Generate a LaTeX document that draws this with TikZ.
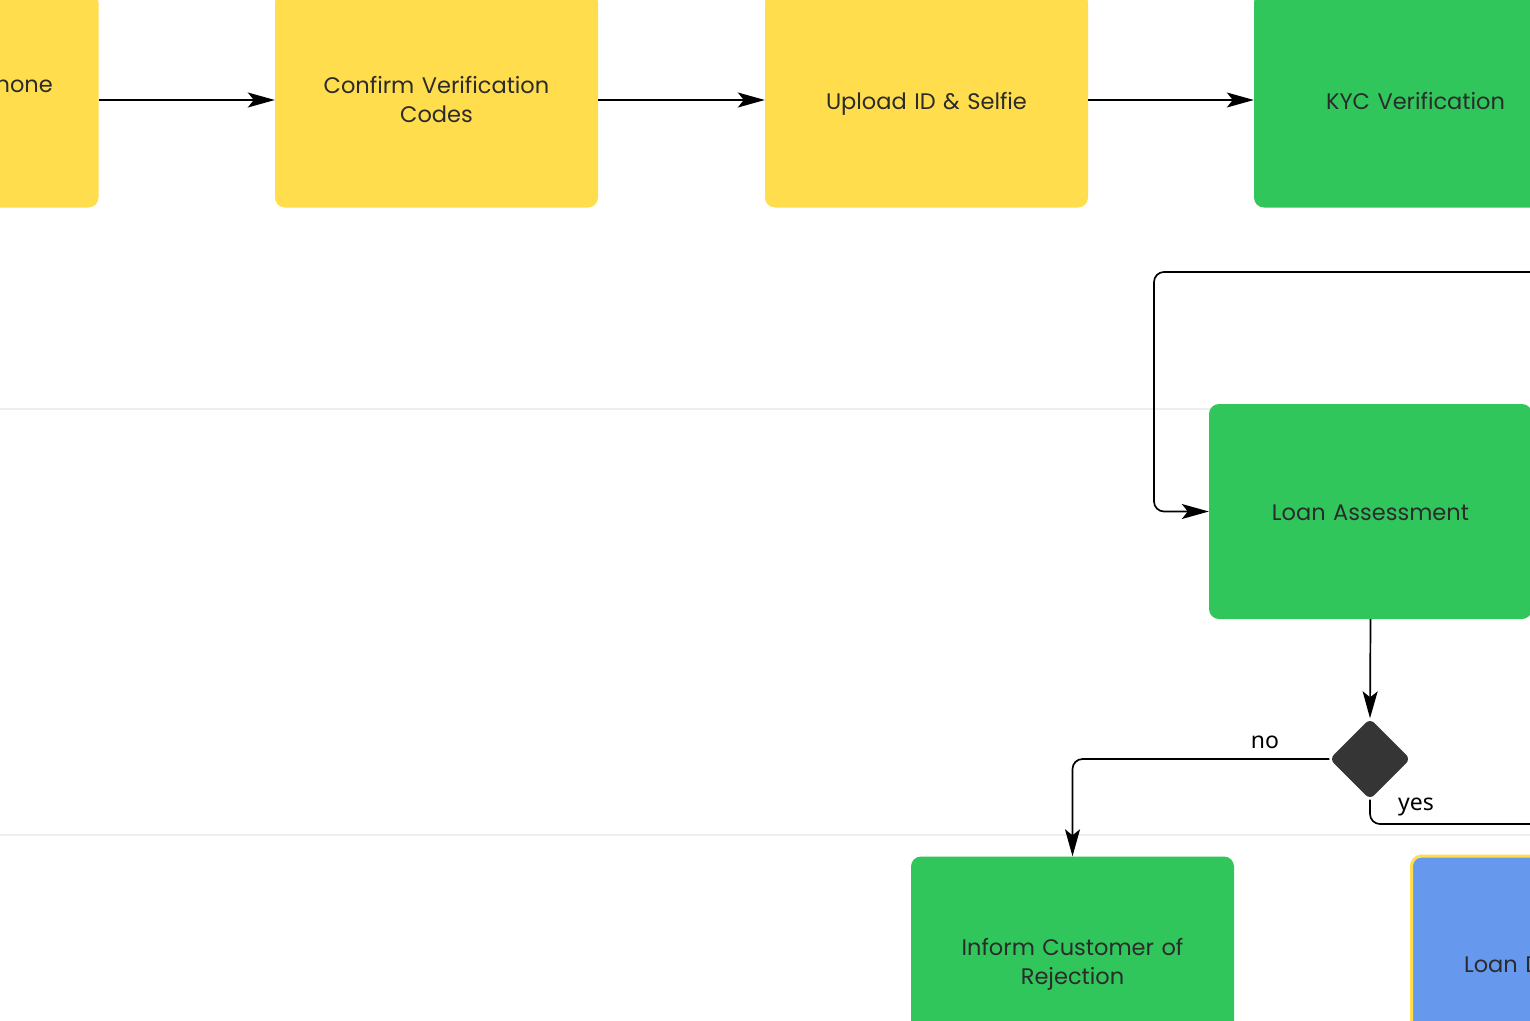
\documentclass[tikz,border=0pt]{standalone}
\usepackage{fontspec}
\setmainfont{Poppins}
\newfontfamily\labelfont{Noto Sans}
\usetikzlibrary{arrows.meta,shapes.geometric}
\definecolor{stepyellow}{HTML}{FFDD4D}
\definecolor{stepgreen}{HTML}{30C65C}
\definecolor{stepblue}{HTML}{6699EE}
\definecolor{steptext}{HTML}{2B2B2B}
\definecolor{lanegray}{HTML}{EEEEEE}
\definecolor{gatefill}{HTML}{353535}
\tikzset{
  stepfont/.style={text=steptext, font=\fontsize{22.5}{29}\selectfont},
  stepbox/.style={rectangle, rounded corners=10pt, minimum width=323pt,
    minimum height=215pt, text width=300pt, align=center, inner sep=0pt,
    stepfont},
  oneline/.style={text depth=0pt, text height=18pt},
  manual/.style={stepbox, fill=stepyellow},
  system/.style={stepbox, fill=stepgreen},
  output/.style={stepbox, fill=stepblue, draw=stepyellow, line width=3pt},
  gate/.style={diamond, fill=gatefill, rounded corners=6pt, minimum width=81pt,
    minimum height=81pt, inner sep=0pt},
  conn/.style={draw=black, line width=1.7pt,
    -{Stealth[length=27pt,width=15pt,inset=6pt]}},
  plain/.style={draw=black, line width=1.7pt},
  lane/.style={draw=lanegray, line width=1.5pt},
  branch/.style={font=\labelfont\fontsize{23}{27}\selectfont, text=black}
}
\begin{document}
\begin{tikzpicture}[x=1pt,y=-1pt]
\useasboundingbox (0,0) rectangle (1530,1020);
\fill[white] (0,0) rectangle (1530,1020);
\clip (0,0) rectangle (1530,1020);

% swimlane separators
\draw[lane] (0,409) -- (1530,409);
\draw[lane] (0,835) -- (1530,835);

% first lane: onboarding steps
\node[manual] (phone) at (-63,100) {};
\node[stepfont, anchor=east, inner sep=0pt] (phonetext) at (53,87) {Verify Phone};
\node[manual] (codes) at (436.5,100) {Confirm Verification\\Codes};
\node[manual, oneline] (upload) at (926.5,100) {Upload ID \& Selfie};
\node[system, oneline] (kyc) at (1415.5,100) {KYC Verification};

\draw[conn] (phone.east) -- (codes.west);
\draw[conn] (codes.east) -- (upload.west);
\draw[conn] (upload.east) -- (kyc.west);

% second lane: assessment and decision
\node[system, oneline] (assess) at (1370.5,511.5) {Loan Assessment};
\node[gate] (decide) at (1370,759) {};

\coordinate (loopin) at (1560,272);
\coordinate (loopturn) at (1154,272);
\draw[conn, rounded corners=10pt] (loopin) -- (loopturn) |- (assess.west);
\draw[conn] (assess.south) -- (decide.north);

% third lane: outcomes
\node[system] (reject) at (1072.5,964) {Inform Customer of\\Rejection};
\node[output, oneline] (disburse) at (1573,963.5) {Loan Disbursement};

\coordinate (yesout) at (1560,824);
\draw[conn, rounded corners=10pt] (decide.west) -| (reject.north);
\draw[plain, rounded corners=10pt] (decide.south) |- (yesout);

\node[branch] (nolabel) at (1265,742) {no};
\node[branch] (yeslabel) at (1416,807) {yes};
\end{tikzpicture}
\end{document}
